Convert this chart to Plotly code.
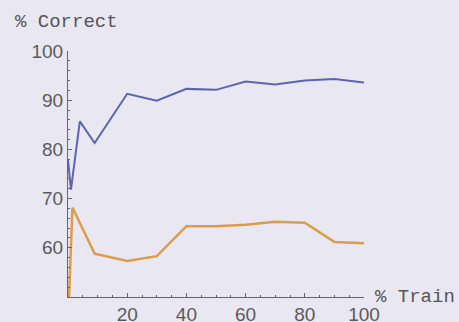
import plotly.graph_objects as go

train_pct = [0, 1, 4, 9, 20, 30, 40, 50, 60, 70, 80, 90, 100]
blue_vals = [77.9, 71.8, 85.7, 81.3, 91.3, 89.9, 92.3, 92.1, 93.8, 93.2, 94.0, 94.3, 93.6]
orange_x = [0, 1.5, 9, 20, 30, 40, 50, 60, 70, 80, 90, 100]
orange_vals = [44.5, 68.2, 58.8, 57.3, 58.3, 64.4, 64.4, 64.7, 65.3, 65.1, 61.2, 60.9]
x_ticks = [20, 40, 60, 80, 100]
y_ticks = [60, 70, 80, 90, 100]

bg = "#e9e7f1"
fig = go.Figure()
fig.add_trace(go.Scatter(x=train_pct, y=blue_vals, mode="lines",
                         line=dict(color="#5c64b0", width=2)))
fig.add_trace(go.Scatter(x=orange_x, y=orange_vals, mode="lines",
                         line=dict(color="#dc9c48", width=2.5)))

axis_common = dict(showgrid=False, zeroline=False, showline=True, linecolor="#666",
                   linewidth=1, ticks="inside", ticklen=4, tickcolor="#666",
                   automargin=False,
                   tickfont=dict(family="Liberation Sans", size=19, color="#5a5a5a"))
fig.update_layout(
    width=459, height=322,
    margin=dict(l=68, r=95, t=51, b=25),
    paper_bgcolor=bg, plot_bgcolor=bg,
    showlegend=False,
    xaxis=dict(range=[0, 100], tickvals=x_ticks, ticktext=[str(v) for v in x_ticks],
               minor=dict(ticks="inside", ticklen=2, dtick=5, tickcolor="#666"),
               **axis_common),
    yaxis=dict(range=[50, 100], tickvals=y_ticks, ticktext=[str(v) for v in y_ticks],
               minor=dict(ticks="inside", ticklen=2, dtick=2, tickcolor="#666"),
               **axis_common),
    annotations=[
        dict(text="% Correct", xref="paper", yref="paper", x=-0.185, y=1.118,
             xanchor="left", yanchor="middle", showarrow=False,
             font=dict(family="Liberation Mono", size=19, color="#555")),
        dict(text="% Train", xref="paper", yref="paper", x=1.03, y=0.0,
             xanchor="left", yanchor="middle", showarrow=False,
             font=dict(family="Liberation Mono", size=19, color="#555")),
    ],
)
fig.write_html("out.html")
